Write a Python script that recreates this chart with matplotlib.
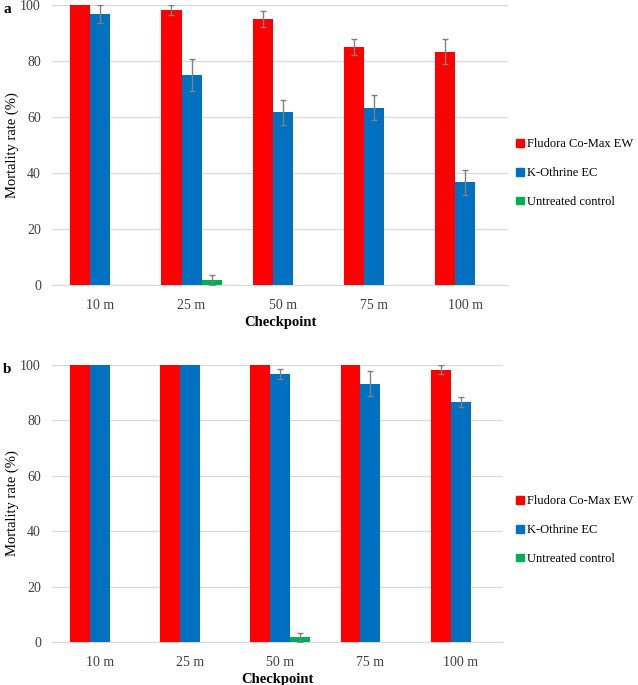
import numpy as np
from matplotlib import pyplot as plt
from matplotlib.patches import Patch

plt.rcParams['font.family'] = ['Liberation Serif', 'DejaVu Serif']

checkpoints = ['10 m', '25 m', '50 m', '75 m', '100 m']
series = ['Fludora Co-Max EW', 'K-Othrine EC', 'Untreated control']
colors = ['#FF0000', '#0070C0', '#00B050']

# panel a
a_fludora = [100, 98.3, 95.0, 85.0, 83.3]
a_fludora_err = [0, 1.7, 2.9, 2.9, 4.4]
a_kothrine = [96.7, 75.0, 61.7, 63.3, 36.7]
a_kothrine_err = [3.3, 5.8, 4.4, 4.4, 4.4]
a_control = [0, 1.7, 0, 0, 0]
a_control_err = [0, 1.7, 0, 0, 0]

# panel b
b_fludora = [100, 100, 100, 100, 98.3]
b_fludora_err = [0, 0, 0, 0, 1.7]
b_kothrine = [100, 100, 96.7, 93.3, 86.7]
b_kothrine_err = [0, 0, 1.7, 4.4, 1.7]
b_control = [0, 0, 1.7, 0, 0]
b_control_err = [0, 0, 1.7, 0, 0]

W, H = 638, 685
fig = plt.figure(figsize=(W / 100, H / 100), dpi=100)


def draw(left, top, right, bottom, vals, errs, letter, leg_y):
    rect = [left / W, 1 - bottom / H, (right - left) / W, (bottom - top) / H]
    ax = fig.add_axes(rect)
    x = np.arange(len(checkpoints))
    w = 0.22
    offs = [-w, 0, w]
    for v, e, c, o in zip(vals, errs, colors, offs):
        ax.bar(x + o + 0.03, v, w, color=c, edgecolor='none', zorder=3)
        ev = np.array(e, dtype=float)
        mask = ev > 0
        ax.errorbar((x + o + 0.03)[mask], np.array(v)[mask], yerr=ev[mask],
                    fmt='none', ecolor='#808080', elinewidth=1, capsize=2.5,
                    capthick=1, zorder=4)
    ax.set_xlim(-0.5, 4.5)
    ax.set_ylim(0, 100)
    ax.set_yticks([0, 20, 40, 60, 80, 100])
    ax.set_xticks(x + 0.03)
    ax.set_xticklabels(checkpoints)
    ax.tick_params(length=0, labelsize=10, colors='#404040')
    ax.tick_params(axis='y', pad=8)
    ax.tick_params(axis='x', pad=10)
    ax.yaxis.grid(True, color='#D9D9D9', linewidth=0.9, zorder=0)
    for s in ['top', 'right', 'left']:
        ax.spines[s].set_visible(False)
    ax.spines['bottom'].set_color('#D9D9D9')
    ax.set_ylabel('Mortality rate (%)', fontsize=10.5)
    ax.yaxis.set_label_coords(-(left - 19) / (right - left), 0.5)
    ax.set_xlabel('Checkpoint', fontsize=10.5, fontweight='bold', labelpad=3)
    fig.text(3 / W, 1 - (top - 2) / H, letter, fontsize=11, fontweight='bold',
             va='top', ha='left')
    handles = [Patch(color=c, label=s) for c, s in zip(colors, series)]
    fig.legend(handles=handles, loc='center left',
               bbox_to_anchor=(505 / W, 1 - leg_y / H), frameon=False,
               fontsize=9, handlelength=0.6, handleheight=0.6,
               handletextpad=0.25, labelspacing=1.35)
    return ax


draw(52, 5, 508, 285,
     [a_fludora, a_kothrine, a_control],
     [a_fludora_err, a_kothrine_err, a_control_err], 'a', 173)
draw(52, 365, 503, 642,
     [b_fludora, b_kothrine, b_control],
     [b_fludora_err, b_kothrine_err, b_control_err], 'b', 530)

fig.savefig('out.png', dpi=100)
